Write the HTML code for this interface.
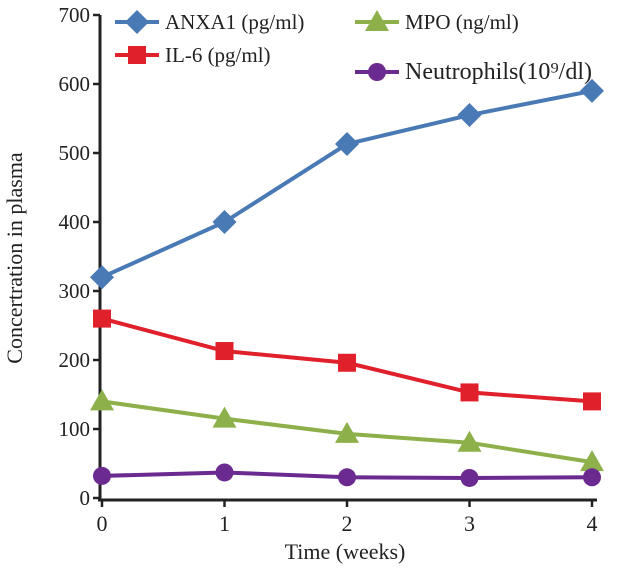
<!DOCTYPE html>
<html><head><meta charset="utf-8"><style>
body{margin:0;background:#fff;}
svg text{font-family:"Liberation Serif",serif;fill:#222;}
</style></head><body>
<svg id="chart" width="625" height="580" xmlns="http://www.w3.org/2000/svg">
<g id="axes"></g>
<g id="series"></g>
<g id="legend"></g>
<text transform="translate(22,258) rotate(-90)" text-anchor="middle" font-size="22">Concertration in plasma</text>
<text x="345" y="559" text-anchor="middle" font-size="22">Time (weeks)</text>
</svg>
<script>
const categories=[0,1,2,3,4];
const yTicks=[0,100,200,300,400,500,600,700];
const anxa1=[320,400,513,555,590];
const il6=[260,213,196,153,140];
const mpo=[140,115,93,80,52];
const neutro=[32,37,30,29,30];
const NS="http://www.w3.org/2000/svg";
const x=v=>102+v*122.5;
const y=v=>498-v*0.69;
function mk(tag,attrs,parent){const e=document.createElementNS(NS,tag);for(const k in attrs)e.setAttribute(k,attrs[k]);parent.appendChild(e);return e;}
const ax=document.getElementById('axes');
let l=mk('line',{x1:100,y1:y(700),x2:100,y2:500,stroke:'#222','stroke-width':3},ax);


l=mk('line',{x1:98,y1:500,x2:597,y2:500,stroke:'#222','stroke-width':3},ax);


yTicks.forEach(t=>{
 const tk=mk('line',{x1:93,y1:y(t),x2:100,y2:y(t),stroke:'#222','stroke-width':2.5},ax);
 
 
 const tx=mk('text',{x:90,y:y(t)+7,'text-anchor':'end','font-size':21},ax);
 tx.textContent=t;
 
 
});
categories.forEach(c=>{
 const tk=mk('line',{x1:x(c),y1:500,x2:x(c),y2:507,stroke:'#222','stroke-width':2.5},ax);
 
 
 const tx=mk('text',{x:x(c),y:531,'text-anchor':'middle','font-size':22},ax);
 tx.textContent=c;
 
 
});
function marker(shape,cx,cy,color,g){
 let e;
 if(shape==='diamond')e=mk('polygon',{points:`${cx},${cy-12} ${cx+12},${cy} ${cx},${cy+12} ${cx-12},${cy}`,fill:color},g);
 else if(shape==='square')e=mk('rect',{x:cx-9,y:cy-9,width:18,height:18,fill:color},g);
 else if(shape==='triangle')e=mk('polygon',{points:`${cx},${cy-12} ${cx+12},${cy+9} ${cx-12},${cy+9}`,fill:color},g);
 else e=mk('circle',{cx:cx,cy:cy,r:9,fill:color},g);
 return e;
}
const series=[
 {name:'anxa1',vals:anxa1,color:'#4a7ab5',shape:'diamond',label:'ANXA1 (pg/ml)',lx:115,ly:22,fs:21},
 {name:'il6',vals:il6,color:'#e0202a',shape:'square',label:'IL-6 (pg/ml)',lx:115,ly:55,fs:21},
 {name:'mpo',vals:mpo,color:'#8db04a',shape:'triangle',label:'MPO (ng/ml)',lx:355,ly:22,fs:21},
 {name:'neutrophils',vals:neutro,color:'#6a2a8f',shape:'circle',label:'Neutrophils(10⁹/dl)',lx:355,ly:72,fs:24}
];
const sg=document.getElementById('series');
const lg=document.getElementById('legend');
series.forEach(s=>{
 const g=mk('g',{},sg);
 
 
 const p=mk('polyline',{points:s.vals.map((v,i)=>x(categories[i])+','+y(v)).join(' '),fill:'none',stroke:s.color,'stroke-width':4},g);
 
 
 s.vals.forEach((v,i)=>{
  const m=marker(s.shape,x(categories[i]),y(v),s.color,g);
  
  
 });
 const le=mk('g',{},lg);
 
 
 mk('line',{x1:s.lx,y1:s.ly,x2:s.lx+44,y2:s.ly,stroke:s.color,'stroke-width':4},le);
 marker(s.shape,s.lx+22,s.ly,s.color,le);
 const t=mk('text',{x:s.lx+50,y:s.ly+7,'font-size':s.fs},le);
 t.textContent=s.label;
});
</script>
</body></html>
